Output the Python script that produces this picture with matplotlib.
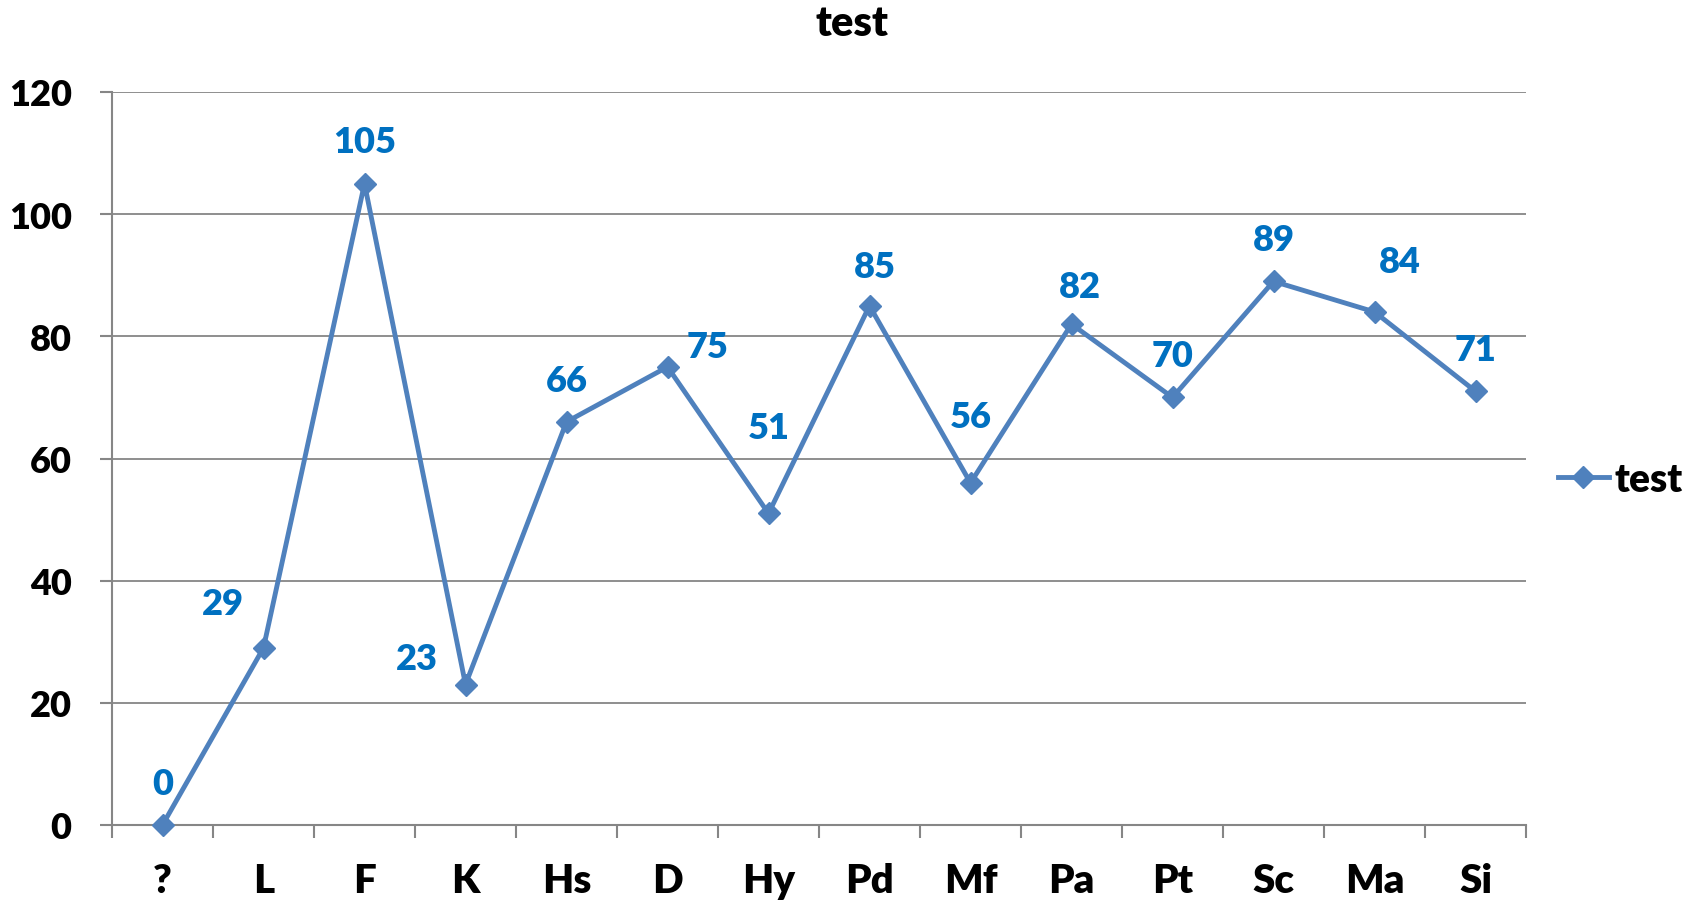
import matplotlib
matplotlib.use("Agg")
from matplotlib import pyplot as plt
import numpy as np

# chart data
categories = ["?", "L", "F", "K", "Hs", "D", "Hy", "Pd", "Mf", "Pa", "Pt", "Sc", "Ma", "Si"]
values = [0, 29, 105, 23, 66, 75, 51, 85, 56, 82, 70, 89, 84, 71]
yticks = [0, 20, 40, 60, 80, 100, 120]
series_name = "test"
title = "test"

# where each data label sits relative to its point (points)
label_offsets = [(0, 30), (-29, 32), (0, 30), (-35, 19), (0, 30), (29, 15), (0, 62),
                 (4, 28), (0, 48), (6, 27), (0, 30), (0, 30), (18, 36), (0, 30)]

line_color = "#4F81BD"
label_color = "#0070C0"
grid_color = "#868686"

plt.rcParams["font.family"] = ["Lato", "DejaVu Sans"]
plt.rcParams["font.weight"] = "heavy"
W = "heavy"

fig = plt.figure(figsize=(17.05, 9.03), dpi=100)
ax = fig.add_axes([112 / 1705, 1 - 826 / 903, (1526 - 112) / 1705, (826 - 93) / 903])

x = np.arange(len(categories))
line, = ax.plot(x, values, color=line_color, lw=3.5, marker="D", markersize=11,
                label=series_name, zorder=3, clip_on=False)

for xi, v, (dx, dy) in zip(x, values, label_offsets):
    ax.annotate(str(v), (xi, v), xytext=(dx, dy), textcoords="offset points",
                ha="center", va="center", color=label_color, fontsize=26,
                fontweight=W)

ax.set_xlim(-0.5, len(categories) - 0.5)
ax.set_ylim(0, 120)
ax.set_yticks(yticks)
ax.set_yticklabels([str(t) for t in yticks])
ax.set_xticks(x)
ax.set_xticklabels(categories)
ax.set_xticks(np.arange(len(categories) + 1) - 0.5, minor=True)

ax.tick_params(axis="x", which="major", length=0, pad=27, labelsize=29)
ax.tick_params(axis="x", which="minor", length=9, width=1.5, color=grid_color, direction="out")
ax.tick_params(axis="y", which="major", length=9, width=1.5, color=grid_color, pad=20,
               labelsize=26, direction="out")
for lbl in ax.get_xticklabels() + ax.get_yticklabels():
    lbl.set_fontweight(W)

ax.grid(axis="y", color=grid_color, lw=1.3)
ax.set_axisbelow(True)
for side in ["top", "right"]:
    ax.spines[side].set_visible(False)
for side in ["left", "bottom"]:
    ax.spines[side].set_color(grid_color)
    ax.spines[side].set_linewidth(1.5)

fig.text(0.5, 1 - 24 / 903, title, ha="center", va="center", fontsize=30, fontweight=W)

fig.legend(handles=[line], loc="center left", bbox_to_anchor=(1558 / 1705, 1 - 480 / 903),
           frameon=False, prop={"size": 28, "weight": W}, handlelength=1.3,
           handletextpad=0.15, borderpad=0, borderaxespad=0)

fig.savefig("out.png", dpi=100)
